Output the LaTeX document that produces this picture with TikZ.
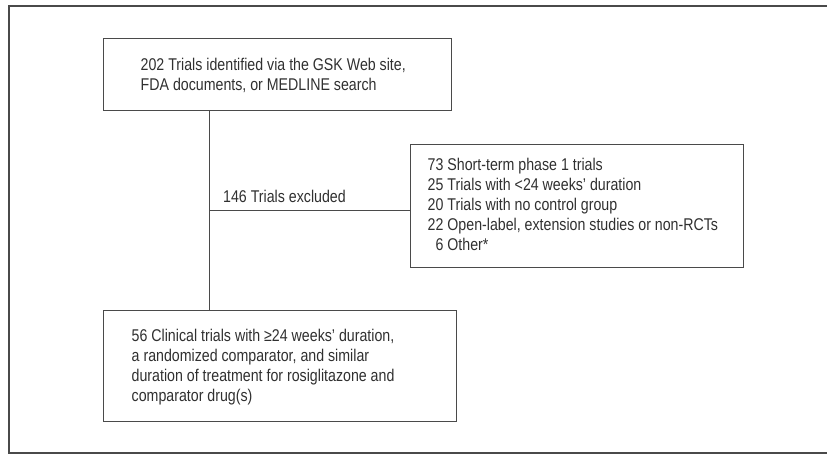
\documentclass[tikz,border=0pt]{standalone}
\usepackage{fontspec}
\setmainfont{Liberation Sans}[FakeStretch=0.835]
\definecolor{linec}{HTML}{4A4A4A}
\definecolor{textc}{HTML}{303030}
\begin{document}
\begin{tikzpicture}[x=1pt,y=-1pt,
  box/.style={draw=linec, line width=1pt, rectangle, inner sep=0pt},
  txt/.style={anchor=west, align=left, inner sep=0pt, text=textc,
    font=\fontsize{17}{20}\selectfont},
  conn/.style={draw=linec, line width=1pt}]
\useasboundingbox (0,0) rectangle (827,455);
\draw[draw=linec, line width=1.6pt] (9,6) rectangle (830,453);
% boxes
\node[box, minimum width=348pt, minimum height=72pt] (top) at (277,74) {};
\node[box, minimum width=333pt, minimum height=123pt] (excl) at (576.5,205.5) {};
\node[box, minimum width=353pt, minimum height=111pt] (bot) at (279.5,365.5) {};
% texts
\node[txt] (toptxt) at ([xshift=38pt,yshift=-1pt]top.west)
  {202 Trials identified via the GSK Web site,\\FDA documents, or MEDLINE search};
\node[txt] (excltxt) at ([xshift=18pt,yshift=1pt]excl.west)
  {73 Short-term phase 1 trials\\25 Trials with <24 weeks’ duration\\20 Trials with no control group\\22 Open-label, extension studies or non-RCTs\\\hphantom{0}6 Other*};
\node[txt] (bottxt) at ([xshift=29pt,yshift=-2pt]bot.west)
  {56 Clinical trials with ≥24 weeks’ duration,\\a randomized comparator, and similar\\duration of treatment for rosiglitazone and\\comparator drug(s)};
% connectors
\coordinate (j) at (209,210.5);
\draw[conn] (top.south -| j) -- (bot.north -| j);
\draw[conn] (j) -- (j -| excl.west);
\node[anchor=base west, inner sep=0pt, text=textc, font=\fontsize{17}{20}\selectfont] (exlab) at (223,202) {146 Trials excluded};
\end{tikzpicture}
\end{document}
